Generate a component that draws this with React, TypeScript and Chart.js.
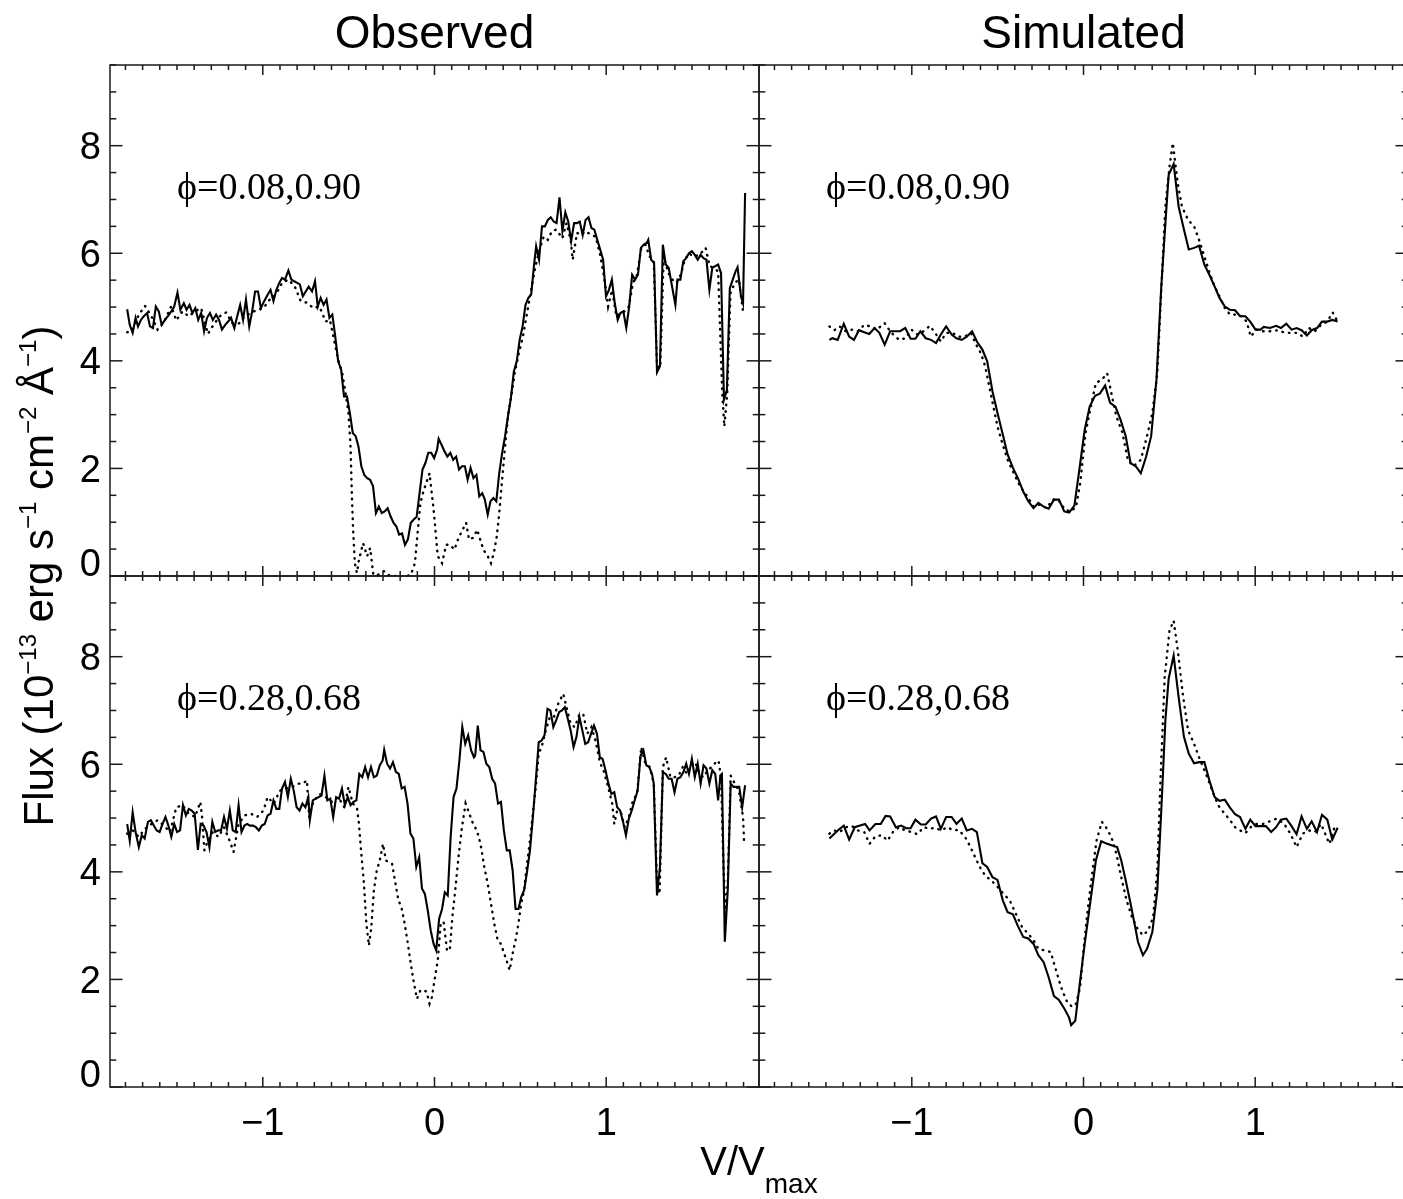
import React, { useEffect, useRef } from 'react';
import { Chart, registerables } from 'chart.js';

Chart.register(...registerables);

// ---------- axis ranges & tick labels ----------
const X_MIN = -1.89;
const X_MAX = 1.89;
const Y_MIN = 0;
const Y_MAX = 9.5;
const xTickValues = [-1, 0, 1];
const xTickLabels = ['\u22121', '0', '1'];
const yTickValues = [0, 2, 4, 6, 8];
const yTickLabels = ['0', '2', '4', '6', '8'];
const columnTitles = ['Observed', 'Simulated'];
const phaseLabels = ['\u03d5=0.08,0.90', '\u03d5=0.28,0.68'];

// ---------- data: [V/Vmax, flux] ----------
const obsTopSolid: [number, number][] = [
  [-1.790,4.96],[-1.775,4.67],[-1.758,4.52],[-1.741,4.80],[-1.727,4.64],[-1.710,4.76],[-1.693,4.83],[-1.674,4.89],
  [-1.657,4.64],[-1.640,4.61],[-1.623,5.01],[-1.606,4.92],[-1.589,4.67],[-1.570,4.76],[-1.553,4.83],[-1.533,4.92],
  [-1.516,5.01],[-1.497,5.27],[-1.480,4.95],[-1.460,5.07],[-1.444,4.95],[-1.427,5.04],[-1.410,4.89],[-1.393,4.98],
  [-1.376,4.76],[-1.359,4.89],[-1.342,4.55],[-1.325,4.80],[-1.308,4.89],[-1.291,4.76],[-1.272,4.86],[-1.255,4.76],
  [-1.238,4.58],[-1.219,4.67],[-1.202,4.73],[-1.185,4.80],[-1.166,4.61],[-1.149,4.83],[-1.132,5.04],[-1.115,4.76],
  [-1.098,5.14],[-1.079,4.64],[-1.062,4.92],[-1.045,5.29],[-1.028,5.29],[-1.011,4.98],[-0.992,5.11],[-0.972,5.23],
  [-0.955,5.32],[-0.938,5.11],[-0.921,5.32],[-0.904,5.45],[-0.888,5.54],[-0.871,5.51],[-0.851,5.68],[-0.834,5.51],
  [-0.817,5.48],[-0.800,5.45],[-0.784,5.42],[-0.767,5.20],[-0.750,5.29],[-0.733,5.38],[-0.713,5.29],[-0.696,5.48],
  [-0.680,5.01],[-0.663,5.17],[-0.646,5.04],[-0.629,5.14],[-0.612,4.80],[-0.595,4.86],[-0.578,4.45],[-0.561,3.99],
  [-0.544,3.84],[-0.527,3.34],[-0.510,3.34],[-0.493,3.03],[-0.476,2.66],[-0.459,2.60],[-0.443,2.41],[-0.426,2.04],
  [-0.409,1.88],[-0.392,1.82],[-0.375,1.79],[-0.358,1.67],[-0.341,1.17],[-0.324,1.29],[-0.307,1.17],[-0.290,1.20],
  [-0.273,1.26],[-0.256,1.11],[-0.239,0.99],[-0.222,0.92],[-0.206,0.77],[-0.189,0.79],[-0.172,0.58],[-0.155,0.68],
  [-0.138,0.99],[-0.121,1.05],[-0.104,1.10],[-0.087,1.54],[-0.070,1.98],[-0.053,2.10],[-0.036,2.29],[-0.019,2.29],
  [-0.002,2.19],[0.015,2.35],[0.024,2.55],[0.041,2.44],[0.058,2.32],[0.075,2.22],[0.092,2.29],[0.109,2.16],
  [0.126,2.22],[0.143,1.98],[0.160,2.04],[0.177,2.04],[0.193,1.79],[0.210,2.01],[0.227,1.82],[0.244,1.88],
  [0.261,1.48],[0.278,1.54],[0.293,1.42],[0.310,1.14],[0.326,1.39],[0.343,1.45],[0.360,1.39],[0.377,1.91],
  [0.394,2.29],[0.411,2.60],[0.428,2.97],[0.445,3.31],[0.462,3.80],[0.479,3.99],[0.496,4.39],[0.513,4.64],
  [0.530,5.04],[0.547,5.17],[0.563,5.23],[0.580,5.79],[0.592,6.13],[0.609,5.88],[0.626,6.50],[0.643,6.50],
  [0.660,6.62],[0.677,6.67],[0.694,6.59],[0.711,6.56],[0.728,7.04],[0.745,6.41],[0.762,6.76],[0.779,6.59],
  [0.796,6.22],[0.813,6.56],[0.830,6.56],[0.846,6.59],[0.863,6.34],[0.880,6.62],[0.897,6.67],[0.914,6.47],
  [0.931,6.44],[0.948,6.25],[0.965,6.07],[0.982,5.88],[0.999,5.20],[1.016,5.32],[1.033,5.51],[1.050,5.07],
  [1.067,4.76],[1.083,4.89],[1.100,4.92],[1.117,4.61],[1.134,5.01],[1.151,5.60],[1.168,5.51],[1.185,5.60],
  [1.202,6.10],[1.219,6.16],[1.236,6.19],[1.245,6.25],[1.262,5.88],[1.279,5.82],[1.296,3.79],[1.313,3.90],
  [1.330,6.16],[1.347,5.79],[1.364,5.73],[1.403,5.04],[1.415,5.51],[1.432,5.51],[1.449,5.85],[1.466,5.91],
  [1.482,6.00],[1.499,6.04],[1.516,5.97],[1.533,5.88],[1.550,5.97],[1.567,5.91],[1.584,5.88],[1.601,5.32],
  [1.618,5.73],[1.635,5.76],[1.652,5.79],[1.669,5.63],[1.686,3.28],[1.703,3.46],[1.720,5.35],[1.737,5.51],
  [1.753,5.66],[1.765,5.74],[1.785,5.20],[1.797,5.07],[1.809,7.12],
];

const obsTopDotted: [number, number][] = [
  [-1.790,4.53],[-1.758,4.58],[-1.722,4.86],[-1.686,5.02],[-1.649,4.83],[-1.613,4.58],[-1.577,4.71],[-1.533,5.02],
  [-1.504,4.75],[-1.468,4.92],[-1.432,4.83],[-1.395,4.92],[-1.359,4.98],[-1.320,4.50],[-1.287,4.67],[-1.250,4.83],
  [-1.214,4.90],[-1.178,4.70],[-1.141,4.69],[-1.105,4.83],[-1.069,4.89],[-1.033,4.95],[-0.996,4.98],[-0.960,5.14],
  [-0.924,5.23],[-0.888,5.45],[-0.851,5.51],[-0.815,5.39],[-0.779,5.11],[-0.742,5.08],[-0.706,4.98],[-0.670,5.01],
  [-0.634,4.73],[-0.609,4.76],[-0.585,4.39],[-0.561,4.02],[-0.537,3.77],[-0.518,3.40],[-0.501,3.03],[-0.489,2.41],
  [-0.481,1.48],[-0.474,0.86],[-0.464,0.24],[-0.452,0.06],[-0.440,0.30],[-0.416,0.61],[-0.392,0.37],[-0.375,0.52],
  [-0.356,0.02],[-0.331,0.02],[-0.295,0.09],[-0.259,0.00],[-0.222,0.00],[-0.186,-0.02],[-0.138,0.02],[-0.114,0.24],
  [-0.102,0.68],[-0.082,1.36],[-0.065,1.57],[-0.048,1.73],[-0.029,1.91],[-0.005,1.23],[0.019,0.37],[0.044,0.24],
  [0.068,0.58],[0.092,0.58],[0.116,0.49],[0.140,0.71],[0.164,0.86],[0.184,0.99],[0.201,0.68],[0.225,0.71],
  [0.249,0.86],[0.266,0.68],[0.285,0.49],[0.310,0.37],[0.329,0.24],[0.346,0.43],[0.363,0.74],[0.377,1.17],
  [0.394,1.79],[0.411,2.41],[0.430,3.03],[0.450,3.40],[0.467,3.77],[0.491,4.14],[0.515,4.45],[0.539,4.89],
  [0.563,5.32],[0.588,5.76],[0.612,6.07],[0.636,6.31],[0.660,6.25],[0.684,6.41],[0.709,6.44],[0.745,6.28],
  [0.769,6.56],[0.793,6.25],[0.805,5.88],[0.830,6.38],[0.854,6.34],[0.878,6.41],[0.914,6.34],[0.938,6.31],
  [0.963,6.00],[0.987,5.57],[1.011,5.01],[1.035,5.32],[1.059,4.83],[1.083,4.89],[1.108,4.92],[1.132,5.01],
  [1.156,5.45],[1.180,5.60],[1.204,6.10],[1.228,6.16],[1.253,5.94],[1.277,5.85],[1.296,3.90],[1.315,3.87],
  [1.335,5.94],[1.362,5.63],[1.386,5.51],[1.410,5.45],[1.434,5.60],[1.458,5.88],[1.482,6.00],[1.507,5.94],
  [1.543,5.97],[1.579,6.10],[1.603,5.76],[1.627,5.73],[1.652,5.66],[1.676,3.40],[1.688,2.78],[1.705,3.40],
  [1.724,5.26],[1.749,5.45],[1.773,5.51],[1.797,4.92],
];

const obsBotSolid: [number, number][] = [
  [-1.790,4.89],[-1.775,4.58],[-1.758,5.11],[-1.741,4.74],[-1.722,4.46],[-1.705,4.68],[-1.688,4.62],[-1.669,4.93],
  [-1.652,4.96],[-1.635,4.86],[-1.618,4.77],[-1.601,4.74],[-1.584,4.89],[-1.567,5.02],[-1.550,4.86],[-1.533,4.65],
  [-1.516,4.89],[-1.499,4.74],[-1.482,4.77],[-1.465,5.24],[-1.448,5.05],[-1.431,5.17],[-1.414,5.14],[-1.397,5.08],
  [-1.378,4.41],[-1.362,4.89],[-1.345,4.86],[-1.328,4.74],[-1.311,4.46],[-1.294,4.93],[-1.277,4.74],[-1.260,4.77],
  [-1.243,4.77],[-1.226,5.02],[-1.209,4.80],[-1.192,5.14],[-1.175,4.77],[-1.158,4.74],[-1.141,5.24],[-1.124,4.74],
  [-1.107,4.86],[-1.091,4.89],[-1.074,4.86],[-1.057,4.86],[-1.040,4.83],[-1.023,4.77],[-1.006,4.86],[-0.989,4.89],
  [-0.972,5.05],[-0.955,5.08],[-0.938,5.33],[-0.921,5.17],[-0.904,5.17],[-0.888,5.55],[-0.871,5.67],[-0.854,5.39],
  [-0.837,5.73],[-0.820,5.51],[-0.803,5.20],[-0.786,5.14],[-0.769,5.27],[-0.752,5.20],[-0.735,5.39],[-0.726,4.96],
  [-0.709,5.33],[-0.692,5.36],[-0.675,5.39],[-0.658,5.42],[-0.641,5.79],[-0.624,5.33],[-0.607,5.36],[-0.590,5.02],
  [-0.573,5.39],[-0.556,5.36],[-0.539,5.55],[-0.522,5.24],[-0.505,5.39],[-0.489,5.24],[-0.472,5.30],[-0.455,5.33],
  [-0.438,5.82],[-0.421,5.76],[-0.404,5.95],[-0.387,5.76],[-0.370,5.95],[-0.353,5.76],[-0.336,5.79],[-0.319,5.98],
  [-0.302,6.07],[-0.293,6.27],[-0.276,6.01],[-0.259,5.92],[-0.242,6.04],[-0.225,5.86],[-0.208,5.82],[-0.191,5.55],
  [-0.174,5.58],[-0.157,5.27],[-0.140,4.71],[-0.123,4.62],[-0.106,4.09],[-0.089,4.27],[-0.073,3.69],[-0.056,3.59],
  [-0.039,3.28],[-0.022,2.91],[-0.005,2.66],[0.010,2.54],[0.027,3.13],[0.044,3.31],[0.060,3.62],[0.077,3.56],
  [0.094,4.65],[0.111,5.39],[0.128,5.55],[0.145,6.07],[0.162,6.69],[0.179,6.38],[0.196,6.54],[0.213,6.26],
  [0.230,6.13],[0.237,6.16],[0.252,6.72],[0.268,6.26],[0.285,6.23],[0.302,6.01],[0.319,5.95],[0.336,5.73],
  [0.353,5.64],[0.370,5.27],[0.387,5.30],[0.404,4.77],[0.421,4.40],[0.438,4.40],[0.455,4.03],[0.472,3.31],
  [0.489,3.31],[0.505,3.53],[0.522,3.66],[0.539,4.00],[0.556,4.40],[0.573,5.02],[0.590,5.70],[0.607,6.41],
  [0.624,6.44],[0.641,6.54],[0.658,7.03],[0.675,7.00],[0.692,6.69],[0.709,6.82],[0.726,6.97],[0.742,7.00],
  [0.759,7.06],[0.776,6.85],[0.793,6.63],[0.810,6.32],[0.827,6.51],[0.844,6.88],[0.861,6.63],[0.878,6.38],
  [0.895,6.41],[0.912,6.57],[0.929,6.72],[0.946,6.57],[0.963,6.13],[0.979,6.10],[0.996,5.89],[1.013,5.64],
  [1.030,5.45],[1.047,5.48],[1.064,5.20],[1.081,5.14],[1.098,4.93],[1.115,4.68],[1.132,4.99],[1.149,5.14],
  [1.166,5.33],[1.183,5.51],[1.200,6.16],[1.217,6.26],[1.234,5.98],[1.250,5.95],[1.267,5.82],[1.277,5.64],
  [1.296,3.56],[1.313,4.09],[1.330,5.85],[1.347,5.82],[1.364,5.73],[1.381,5.73],[1.398,5.48],[1.415,5.73],
  [1.432,5.76],[1.449,5.85],[1.466,6.01],[1.482,5.82],[1.499,6.10],[1.516,5.76],[1.533,6.01],[1.550,5.64],
  [1.567,5.98],[1.584,5.92],[1.601,5.64],[1.618,5.89],[1.635,5.82],[1.652,5.33],[1.665,5.79],[1.674,5.82],
  [1.691,2.70],[1.708,3.66],[1.725,5.64],[1.742,5.58],[1.759,5.58],[1.775,5.58],[1.792,5.20],[1.809,5.61],
];

const obsBotDotted: [number, number][] = [
  [-1.790,4.71],[-1.758,4.77],[-1.722,4.65],[-1.686,4.80],[-1.649,4.89],[-1.613,4.96],[-1.577,4.86],[-1.540,4.74],
  [-1.504,5.20],[-1.468,5.24],[-1.431,5.08],[-1.395,5.02],[-1.364,5.30],[-1.354,5.02],[-1.340,4.40],[-1.323,4.55],
  [-1.291,4.74],[-1.258,4.65],[-1.226,4.83],[-1.190,4.55],[-1.170,4.37],[-1.141,4.89],[-1.105,5.05],[-1.069,5.08],
  [-1.033,5.02],[-0.996,5.14],[-0.972,5.39],[-0.936,5.27],[-0.900,5.51],[-0.863,5.55],[-0.827,5.58],[-0.791,5.64],
  [-0.767,5.64],[-0.743,5.70],[-0.730,5.02],[-0.706,5.30],[-0.670,5.45],[-0.634,5.39],[-0.597,5.30],[-0.561,5.39],
  [-0.525,5.20],[-0.501,5.58],[-0.476,5.27],[-0.452,5.20],[-0.440,4.89],[-0.428,4.40],[-0.411,3.78],[-0.397,3.04],
  [-0.382,2.63],[-0.368,2.97],[-0.353,3.66],[-0.336,4.03],[-0.319,4.21],[-0.300,4.52],[-0.283,4.21],[-0.266,4.18],
  [-0.247,4.15],[-0.227,3.78],[-0.210,3.47],[-0.193,3.35],[-0.174,3.04],[-0.155,2.66],[-0.138,2.29],[-0.121,1.95],
  [-0.102,1.64],[-0.082,1.80],[-0.063,1.80],[-0.046,1.77],[-0.029,1.55],[-0.015,1.67],[0.000,1.98],[0.019,2.35],
  [0.036,3.04],[0.053,3.07],[0.073,2.54],[0.089,2.54],[0.104,3.16],[0.121,3.66],[0.140,4.28],[0.160,4.83],
  [0.181,5.27],[0.203,5.08],[0.225,4.89],[0.247,4.77],[0.268,4.52],[0.290,4.09],[0.310,3.78],[0.329,3.41],
  [0.348,3.04],[0.368,2.73],[0.387,2.66],[0.406,2.48],[0.423,2.32],[0.438,2.17],[0.455,2.48],[0.472,2.73],
  [0.489,3.04],[0.505,3.41],[0.522,3.66],[0.539,4.15],[0.556,4.58],[0.573,5.08],[0.590,5.58],[0.607,6.20],
  [0.624,6.32],[0.648,6.63],[0.672,6.88],[0.696,6.88],[0.721,7.13],[0.750,7.31],[0.769,7.06],[0.793,6.75],
  [0.817,6.69],[0.842,6.91],[0.866,6.94],[0.890,6.57],[0.914,6.69],[0.938,6.44],[0.963,6.04],[0.987,5.86],
  [1.011,5.58],[1.035,5.27],[1.047,4.89],[1.064,5.14],[1.088,5.08],[1.108,4.83],[1.132,5.02],[1.156,5.33],
  [1.180,5.45],[1.204,6.32],[1.228,6.01],[1.253,5.95],[1.277,5.64],[1.296,3.78],[1.311,3.59],[1.330,5.95],
  [1.349,6.13],[1.374,5.76],[1.398,5.76],[1.422,5.79],[1.446,5.95],[1.471,5.82],[1.495,5.98],[1.519,6.04],
  [1.543,5.82],[1.567,5.76],[1.591,5.89],[1.615,5.95],[1.640,6.04],[1.654,6.07],[1.669,5.76],[1.683,4.09],
  [1.695,3.28],[1.708,3.78],[1.725,5.79],[1.749,5.64],[1.773,5.51],[1.797,5.02],[1.804,4.49],
];

const simTopSolid: [number, number][] = [
  [-1.480,4.39],[-1.463,4.42],[-1.432,4.39],[-1.396,4.69],[-1.365,4.45],[-1.337,4.39],[-1.308,4.57],[-1.277,4.53],
  [-1.248,4.50],[-1.217,4.61],[-1.189,4.52],[-1.158,4.30],[-1.126,4.55],[-1.098,4.55],[-1.069,4.55],[-1.038,4.61],
  [-1.007,4.41],[-0.979,4.41],[-0.950,4.55],[-0.919,4.42],[-0.888,4.39],[-0.859,4.33],[-0.831,4.49],[-0.800,4.64],
  [-0.768,4.49],[-0.740,4.42],[-0.709,4.39],[-0.680,4.45],[-0.649,4.55],[-0.621,4.36],[-0.589,4.21],[-0.561,3.99],
  [-0.530,3.43],[-0.501,3.03],[-0.470,2.63],[-0.442,2.26],[-0.411,2.01],[-0.382,1.82],[-0.351,1.57],[-0.322,1.39],
  [-0.291,1.26],[-0.263,1.36],[-0.232,1.29],[-0.203,1.25],[-0.172,1.42],[-0.143,1.42],[-0.112,1.20],[-0.084,1.18],
  [-0.053,1.31],[-0.024,1.98],[0.007,2.72],[0.036,3.15],[0.067,3.35],[0.095,3.39],[0.126,3.54],[0.155,3.22],
  [0.186,3.15],[0.215,2.91],[0.246,2.60],[0.274,2.10],[0.305,2.04],[0.334,1.91],[0.365,2.22],[0.394,2.60],
  [0.425,3.65],[0.453,5.38],[0.477,6.56],[0.496,7.46],[0.525,7.66],[0.554,6.87],[0.585,6.44],[0.613,6.07],
  [0.644,6.10],[0.673,6.14],[0.704,5.79],[0.733,5.60],[0.764,5.38],[0.792,5.17],[0.823,5.01],[0.852,4.95],
  [0.883,4.94],[0.912,4.83],[0.943,4.83],[0.971,4.73],[1.002,4.58],[1.031,4.58],[1.050,4.63],[1.086,4.61],
  [1.122,4.65],[1.150,4.61],[1.181,4.69],[1.212,4.58],[1.241,4.61],[1.270,4.57],[1.301,4.47],[1.329,4.57],
  [1.360,4.61],[1.389,4.73],[1.420,4.73],[1.449,4.76],[1.480,4.73],
];

const simTopDotted: [number, number][] = [
  [-1.480,4.64],[-1.451,4.57],[-1.420,4.64],[-1.384,4.55],[-1.348,4.58],[-1.313,4.55],[-1.277,4.67],[-1.241,4.64],
  [-1.205,4.58],[-1.158,4.70],[-1.122,4.53],[-1.074,4.39],[-1.038,4.42],[-1.002,4.58],[-0.967,4.49],[-0.931,4.55],
  [-0.895,4.65],[-0.864,4.52],[-0.831,4.36],[-0.800,4.52],[-0.764,4.52],[-0.728,4.45],[-0.692,4.45],[-0.656,4.52],
  [-0.625,4.30],[-0.597,4.14],[-0.573,3.90],[-0.549,3.53],[-0.525,3.15],[-0.501,2.78],[-0.473,2.47],[-0.442,2.16],
  [-0.406,1.91],[-0.370,1.67],[-0.334,1.51],[-0.291,1.29],[-0.251,1.33],[-0.215,1.26],[-0.179,1.42],[-0.148,1.42],
  [-0.107,1.23],[-0.072,1.20],[-0.043,1.29],[-0.019,1.73],[0.012,2.66],[0.043,3.15],[0.072,3.59],[0.107,3.65],
  [0.138,3.77],[0.162,3.40],[0.191,2.97],[0.227,2.66],[0.258,2.16],[0.291,2.04],[0.334,2.16],[0.370,2.60],
  [0.401,3.03],[0.430,3.77],[0.453,5.32],[0.477,6.87],[0.501,7.61],[0.520,8.05],[0.549,7.30],[0.573,6.87],
  [0.609,6.62],[0.644,6.50],[0.673,6.25],[0.704,5.94],[0.735,5.63],[0.764,5.38],[0.792,5.20],[0.823,4.98],
  [0.854,4.86],[0.883,4.86],[0.919,4.83],[0.950,4.73],[0.974,4.45],[1.007,4.58],[1.045,4.55],[1.086,4.55],
  [1.134,4.57],[1.174,4.52],[1.217,4.52],[1.246,4.52],[1.277,4.45],[1.313,4.61],[1.348,4.55],[1.384,4.67],
  [1.420,4.73],[1.451,4.90],[1.480,4.73],
];

const simBotSolid: [number, number][] = [
  [-1.480,4.62],[-1.451,4.71],[-1.420,4.80],[-1.396,4.86],[-1.365,4.60],[-1.332,4.83],[-1.301,4.86],[-1.272,4.89],
  [-1.246,4.77],[-1.212,4.89],[-1.181,4.89],[-1.153,5.04],[-1.126,5.03],[-1.093,4.83],[-1.062,4.86],[-1.033,4.81],
  [-1.007,4.81],[-0.979,4.97],[-0.947,4.88],[-0.919,4.88],[-0.888,4.99],[-0.859,5.03],[-0.831,4.80],[-0.800,5.02],
  [-0.768,5.02],[-0.740,4.89],[-0.709,4.99],[-0.680,4.77],[-0.649,4.80],[-0.621,4.74],[-0.589,4.16],[-0.561,4.09],
  [-0.530,3.90],[-0.501,3.85],[-0.470,3.47],[-0.442,3.25],[-0.411,3.21],[-0.382,2.99],[-0.351,2.79],[-0.322,2.76],
  [-0.291,2.66],[-0.263,2.45],[-0.232,2.32],[-0.203,2.04],[-0.172,1.69],[-0.143,1.62],[-0.112,1.46],[-0.084,1.29],
  [-0.072,1.15],[-0.048,1.23],[-0.024,1.86],[0.007,2.66],[0.036,3.35],[0.072,4.21],[0.103,4.57],[0.138,4.52],
  [0.167,4.49],[0.196,4.46],[0.220,4.21],[0.246,3.84],[0.274,3.41],[0.305,2.91],[0.317,2.70],[0.346,2.45],
  [0.370,2.57],[0.401,2.88],[0.430,3.66],[0.453,5.14],[0.477,6.82],[0.496,7.59],[0.525,8.02],[0.554,7.25],
  [0.585,6.51],[0.613,6.20],[0.644,6.02],[0.673,6.04],[0.704,6.04],[0.733,5.70],[0.764,5.39],[0.792,5.32],
  [0.823,5.34],[0.852,5.20],[0.883,5.07],[0.912,5.02],[0.943,4.80],[0.971,4.97],[1.002,4.85],[1.031,4.85],
  [1.062,4.85],[1.093,4.74],[1.122,4.83],[1.150,4.97],[1.181,4.99],[1.210,4.86],[1.241,4.70],[1.270,5.03],
  [1.301,4.80],[1.329,4.94],[1.360,4.74],[1.389,5.06],[1.420,4.97],[1.449,4.60],[1.480,4.82],
];

const simBotDotted: [number, number][] = [
  [-1.480,4.71],[-1.451,4.77],[-1.420,4.74],[-1.384,4.83],[-1.348,4.85],[-1.313,4.77],[-1.277,4.74],[-1.246,4.52],
  [-1.212,4.66],[-1.174,4.68],[-1.141,4.58],[-1.110,4.74],[-1.074,4.83],[-1.038,4.77],[-1.002,4.74],[-0.967,4.70],
  [-0.931,4.83],[-0.895,4.80],[-0.864,4.82],[-0.831,4.77],[-0.792,4.83],[-0.759,4.77],[-0.728,4.78],[-0.692,4.66],
  [-0.663,4.49],[-0.632,4.28],[-0.604,4.09],[-0.573,3.93],[-0.537,3.84],[-0.501,3.72],[-0.465,3.59],[-0.430,3.47],
  [-0.394,3.22],[-0.358,2.97],[-0.322,2.85],[-0.291,2.73],[-0.263,2.57],[-0.227,2.54],[-0.191,2.51],[-0.160,2.17],
  [-0.131,1.86],[-0.100,1.61],[-0.067,1.49],[-0.043,1.55],[-0.019,1.86],[0.000,2.54],[0.024,3.28],[0.053,4.03],
  [0.076,4.58],[0.107,4.93],[0.131,4.83],[0.162,4.65],[0.191,4.34],[0.220,3.90],[0.251,3.47],[0.282,3.16],
  [0.315,2.94],[0.346,2.82],[0.377,2.91],[0.406,3.16],[0.430,4.03],[0.449,5.76],[0.473,7.62],[0.501,8.49],
  [0.525,8.67],[0.549,8.12],[0.578,7.31],[0.609,6.63],[0.644,6.38],[0.673,6.13],[0.704,5.89],[0.735,5.64],
  [0.764,5.39],[0.792,5.20],[0.823,5.08],[0.854,4.96],[0.883,4.83],[0.912,4.77],[0.943,4.72],[0.974,4.83],
  [1.007,4.89],[1.045,4.89],[1.086,4.94],[1.126,4.99],[1.169,4.89],[1.205,4.71],[1.241,4.46],[1.277,4.71],
  [1.313,4.77],[1.348,4.74],[1.384,4.89],[1.432,4.52],[1.468,4.89],
];

// ---------- styling ----------
const INK = '#000000';
const AXIS_INK = '#1a1a1a';
const SANS = '"Liberation Sans", Arial, Helvetica, sans-serif';
const SERIF = '"Liberation Serif", "Times New Roman", serif';

const toPts = (arr: [number, number][]) => arr.map(([x, y]) => ({ x, y }));

function solid(data: [number, number][], xAxisID: string, yAxisID: string) {
  return {
    data: toPts(data), xAxisID, yAxisID,
    borderColor: INK, borderWidth: 2.1, pointRadius: 0, tension: 0, fill: false,
  };
}
function dotted(data: [number, number][], xAxisID: string, yAxisID: string) {
  return {
    data: toPts(data), xAxisID, yAxisID,
    borderColor: INK, borderWidth: 2.4, borderDash: [0.6, 6], borderCapStyle: 'round',
    pointRadius: 0, tension: 0, fill: false,
  };
}

const panelsPlugin = {
  id: 'idlPanels',
  afterDatasetsDraw(chart: any) {
    const ctx: CanvasRenderingContext2D = chart.ctx;
    const s = chart.scales;
    const panels = [
      { x: s.xL, y: s.yT, label: phaseLabels[0] },
      { x: s.xR, y: s.yT, label: phaseLabels[0] },
      { x: s.xL, y: s.yB, label: phaseLabels[1] },
      { x: s.xR, y: s.yB, label: phaseLabels[1] },
    ];
    ctx.save();
    ctx.strokeStyle = AXIS_INK;
    ctx.lineWidth = 1.5;
    const seg = (x1: number, y1: number, x2: number, y2: number) => {
      ctx.beginPath(); ctx.moveTo(x1, y1); ctx.lineTo(x2, y2); ctx.stroke();
    };
    for (const p of panels) {
      const l = p.x.left, r = p.x.right, t = p.y.top, b = p.y.bottom;
      ctx.strokeRect(l, t, r - l, b - t);
      // x ticks: minor every 0.1, major every 1 (inward, top & bottom)
      for (let k = Math.ceil(X_MIN * 10); k <= Math.floor(X_MAX * 10); k++) {
        const major = k % 10 === 0;
        const len = major ? 10 : 5;
        const px = p.x.getPixelForValue(k / 10);
        seg(px, b, px, b - len);
        seg(px, t, px, t + len);
      }
      // y ticks: minor every 0.5, major every 2 (inward, left & right)
      for (let k = Math.ceil(Y_MIN * 2); k <= Math.floor(Y_MAX * 2); k++) {
        const major = k % 4 === 0;
        const len = major ? 12.5 : 6.3;
        const py = p.y.getPixelForValue(k / 2);
        seg(l, py, l + len, py);
        seg(r, py, r - len, py);
      }
      // phase annotation
      ctx.fillStyle = INK;
      ctx.font = `38px ${SERIF}`;
      ctx.textAlign = 'left';
      ctx.textBaseline = 'alphabetic';
      ctx.fillText(p.label, p.x.getPixelForValue(-1.5), p.y.getPixelForValue(7.0));
    }

    // tick labels
    ctx.fillStyle = INK;
    ctx.font = `38px ${SANS}`;
    ctx.textAlign = 'center';
    ctx.textBaseline = 'alphabetic';
    for (const xs of [s.xL, s.xR]) {
      xTickValues.forEach((v, i) => {
        ctx.fillText(xTickLabels[i], xs.getPixelForValue(v), s.yB.bottom + 48);
      });
    }
    ctx.textAlign = 'right';
    for (const ys of [s.yT, s.yB]) {
      yTickValues.forEach((v, i) => {
        const py = ys.getPixelForValue(v);
        const base = v === 0 ? py : py + 13.6;
        ctx.fillText(yTickLabels[i], s.xL.left - 9, base);
      });
    }

    // column titles
    ctx.font = `46px ${SANS}`;
    ctx.textAlign = 'center';
    ctx.fillText(columnTitles[0], (s.xL.left + s.xL.right) / 2, 48);
    ctx.fillText(columnTitles[1], (s.xR.left + s.xR.right) / 2, 48);

    // x-axis title V/V_max
    const mainX = 'V/V';
    const subX = 'max';
    ctx.textAlign = 'left';
    ctx.font = `40px ${SANS}`;
    const w1 = ctx.measureText(mainX).width;
    ctx.font = `28px ${SANS}`;
    const w2 = ctx.measureText(subX).width;
    const cx = s.xL.right;
    const x0 = cx - (w1 + w2) / 2;
    ctx.font = `40px ${SANS}`;
    ctx.fillText(mainX, x0, 1175);
    ctx.font = `28px ${SANS}`;
    ctx.fillText(subX, x0 + w1, 1193);

    // y-axis title (rotated) with superscripts
    const parts: [string, boolean][] = [
      ['Flux (10', false], ['\u221213', true], [' erg s', false], ['\u22121', true],
      [' cm', false], ['\u22122', true], [' \u00c5', false], ['\u22121', true], [')', false],
    ];
    const mainFont = `42px ${SANS}`;
    const supFont = `24px ${SANS}`;
    let total = 0;
    for (const [txt, sup] of parts) {
      ctx.font = sup ? supFont : mainFont;
      total += ctx.measureText(txt).width;
    }
    ctx.save();
    ctx.translate(53, (s.yT.top + s.yB.bottom) / 2);
    ctx.rotate(-Math.PI / 2);
    let xx = -total / 2;
    for (const [txt, sup] of parts) {
      ctx.font = sup ? supFont : mainFont;
      ctx.fillText(txt, xx, sup ? -17 : 0);
      xx += ctx.measureText(txt).width;
    }
    ctx.restore();
    ctx.restore();
  },
};

export default function App() {
  const canvasRef = useRef<HTMLCanvasElement | null>(null);

  useEffect(() => {
    const canvas = canvasRef.current;
    if (!canvas) return;
    const axisBase = { type: 'linear', display: false };
    const chart = new Chart(canvas, {
      type: 'line',
      data: {
        datasets: [
          solid(obsTopSolid, 'xL', 'yT'),
          dotted(obsTopDotted, 'xL', 'yT'),
          solid(simTopSolid, 'xR', 'yT'),
          dotted(simTopDotted, 'xR', 'yT'),
          solid(obsBotSolid, 'xL', 'yB'),
          dotted(obsBotDotted, 'xL', 'yB'),
          solid(simBotSolid, 'xR', 'yB'),
          dotted(simBotDotted, 'xR', 'yB'),
        ] as any,
      },
      options: {
        animation: false,
        responsive: false,
        devicePixelRatio: 1,
        events: [],
        layout: { padding: { left: 110, top: 65, right: 12, bottom: 112 } },
        plugins: { legend: { display: false }, tooltip: { enabled: false } },
        scales: {
          xL: { ...axisBase, position: 'bottom', stack: 'h', stackWeight: 1, weight: 1, min: X_MIN, max: X_MAX },
          xR: { ...axisBase, position: 'bottom', stack: 'h', stackWeight: 1, weight: 2, min: X_MIN, max: X_MAX },
          yT: { ...axisBase, position: 'left', stack: 'v', stackWeight: 1, weight: 2, min: Y_MIN, max: Y_MAX },
          yB: { ...axisBase, position: 'left', stack: 'v', stackWeight: 1, weight: 1, min: Y_MIN, max: Y_MAX },
        } as any,
      },
      plugins: [panelsPlugin],
    } as any);
    return () => chart.destroy();
  }, []);

  return (
    <div style={{ position: 'absolute', left: 0, top: 0, width: 1403, height: 1199, overflow: 'hidden', background: '#ffffff' }}>
      <canvas ref={canvasRef} width={1420} height={1199} style={{ display: 'block' }} />
    </div>
  );
}
